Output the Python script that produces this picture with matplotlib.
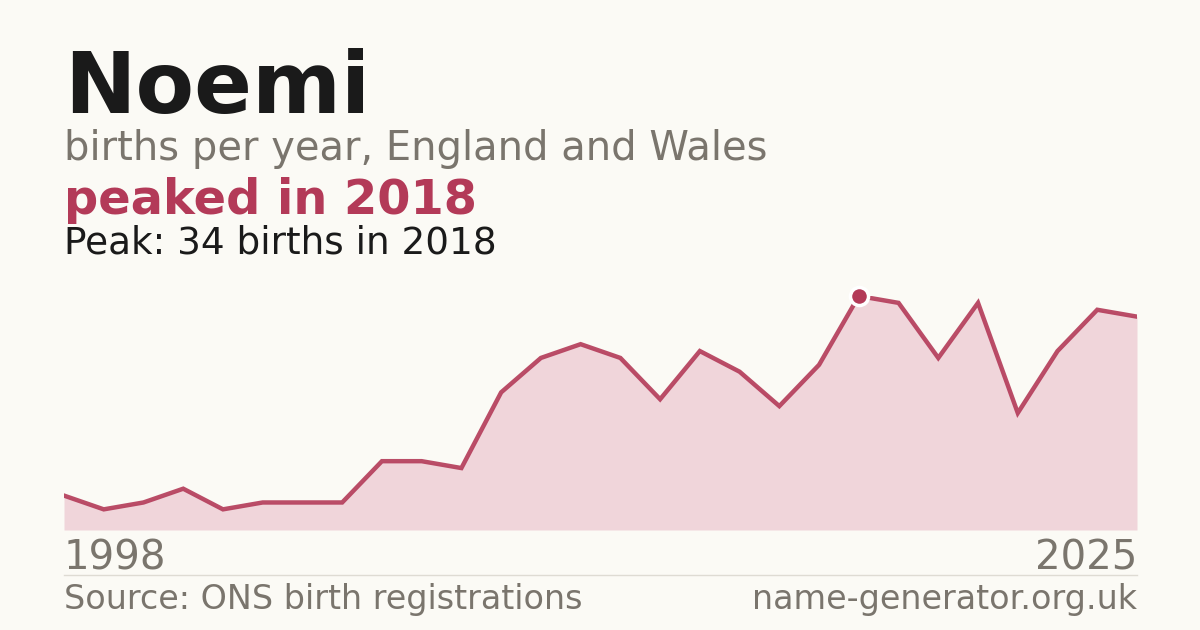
import matplotlib
matplotlib.use("Agg")
import matplotlib.pyplot as plt

years = list(range(1998, 2026))
births = [5, 3, 4, 6, 3, 4, 4, 4, 10, 10, 9, 20, 25, 27, 25, 19, 26, 23, 18, 24,
          34, 33, 25, 33, 17, 26, 32, 31]
peak_year = 2018
peak_value = 34

BG = "#fbfaf5"
LINE = "#b33a58"
FILL = "#f0d5da"
GREY = "#7a756d"
DARK = "#1a1a1a"

W, H = 1200, 630
fig = plt.figure(figsize=(12, 6.3), dpi=100, facecolor=BG)

ax = fig.add_axes([64 / W, (H - 530) / H, (1137 - 64) / W, (530 - 296) / H])
ax.set_facecolor(BG)
ax.fill_between(years, births, 0, color=FILL, linewidth=0)
ax.plot(years, births, color=LINE, linewidth=3.2, solid_joinstyle="miter", alpha=0.9)
ax.plot([peak_year], [peak_value], marker="o", markersize=13, color=LINE,
        markeredgecolor="white", markeredgewidth=2.5, clip_on=False, zorder=5)
ax.set_xlim(years[0], years[-1])
ax.set_ylim(0, peak_value)
ax.axis("off")

fig.text(64 / W, 1 - 113 / H, "Noemi", fontsize=61.5, fontweight="bold", color=DARK,
         family="DejaVu Sans", va="baseline")
fig.text(64 / W, 1 - 160 / H, "births per year, England and Wales", fontsize=28.8,
         color=GREY, va="baseline")
fig.text(64 / W, 1 - 214 / H, "peaked in 2018", fontsize=34.5, fontweight="bold",
         color=LINE, va="baseline")
fig.text(64 / W, 1 - 254 / H, "Peak: 34 births in 2018", fontsize=26.9,
         color=DARK, va="baseline")

fig.text(64 / W, 1 - 569 / H, str(years[0]), fontsize=29, color=GREY, va="baseline")
fig.text(1137 / W, 1 - 569 / H, str(years[-1]), fontsize=29, color=GREY,
         va="baseline", ha="right")

fig.add_artist(plt.Line2D([64 / W, 1137 / W], [1 - 574.5 / H, 1 - 574.5 / H],
                          color="#dedbd3", linewidth=1))

fig.text(64 / W, 1 - 609 / H, "Source: ONS birth registrations", fontsize=24,
         color=GREY, va="baseline")
fig.text(1137 / W, 1 - 609 / H, "name-generator.org.uk", fontsize=24, color=GREY,
         va="baseline", ha="right")

fig.savefig("out.png", dpi=100, facecolor=BG)
